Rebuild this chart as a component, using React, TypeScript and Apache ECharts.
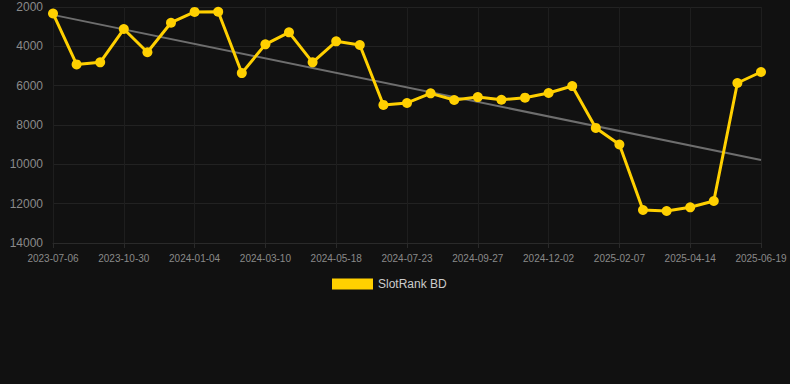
import React, { useEffect, useRef } from "react";
import * as echarts from "echarts";

const dates = [
  "2023-07-06", "2023-08-14", "2023-09-22", "2023-10-30", "2023-11-21", "2023-12-13",
  "2024-01-04", "2024-01-26", "2024-02-17", "2024-03-10", "2024-04-02", "2024-04-25",
  "2024-05-18", "2024-06-09", "2024-07-01", "2024-07-23", "2024-08-14", "2024-09-05",
  "2024-09-27", "2024-10-19", "2024-11-10", "2024-12-02", "2024-12-24", "2025-01-15",
  "2025-02-07", "2025-03-01", "2025-03-23", "2025-04-14", "2025-05-06", "2025-05-28",
  "2025-06-19",
];

const rankValues = [
  2330, 4920, 4815, 3120, 4300, 2800, 2250, 2240, 5360, 3900, 3290, 4815,
  3745, 3930, 6980, 6880, 6390, 6730, 6580, 6715, 6610, 6375, 6020, 8150,
  8990, 12320, 12375, 12185, 11865, 5865, 5305,
];

// trend line end values (first and last category)
const trendValues = [2400, 9780];

const seriesName = "SlotRank BD";

export default function App() {
  const ref = useRef<HTMLDivElement>(null);
  useEffect(() => {
    document.body.style.margin = "0";
    const chart = echarts.init(ref.current!, null, { renderer: "svg" });
    chart.setOption({
      animation: false,
      backgroundColor: "#111111",
      grid: { left: 53, right: 29, top: 7, bottom: 141, containLabel: false },
      legend: {
        data: [seriesName],
        top: 278,
        left: 332,
        padding: 0,
        icon: "rect",
        itemWidth: 41,
        itemHeight: 11,
        itemGap: 10,
        textStyle: { color: "#cccccc", fontSize: 12, fontFamily: "Liberation Sans, Arial, sans-serif" },
      },
      xAxis: {
        type: "category",
        data: dates,
        boundaryGap: false,
        axisLine: { show: true, lineStyle: { color: "#2a2a2a" } },
        axisTick: { show: true, interval: 2, lineStyle: { color: "#2a2a2a" } },
        axisLabel: {
          interval: 2,
          color: "#8a8a8a",
          fontSize: 10,
          margin: 10,
          fontFamily: "Liberation Sans, Arial, sans-serif",
        },
        splitLine: { show: true, interval: 2, lineStyle: { color: "#1e1e1e", width: 1 } },
      },
      yAxis: {
        type: "value",
        inverse: true,
        min: 2000,
        max: 14000,
        interval: 2000,
        axisLine: { show: false },
        axisTick: { show: false },
        axisLabel: {
          color: "#8a8a8a",
          fontSize: 12,
          margin: 10,
          formatter: (v: number) => String(v),
          fontFamily: "Liberation Sans, Arial, sans-serif",
        },
        splitLine: { show: true, lineStyle: { color: "#222222", width: 1 } },
      },
      series: [
        {
          name: seriesName,
          type: "line",
          data: rankValues,
          symbol: "circle",
          symbolSize: 10,
          lineStyle: { color: "#ffd000", width: 3 },
          itemStyle: { color: "#ffd000" },
          z: 3,
        },
        {
          name: "Trend",
          type: "line",
          data: [
            [0, trendValues[0]],
            [dates.length - 1, trendValues[1]],
          ],
          symbol: "none",
          lineStyle: { color: "#6e6e6e", width: 2 },
          itemStyle: { color: "#6e6e6e" },
          z: 2,
          silent: true,
        },
      ],
    });
    return () => chart.dispose();
  }, []);
  return <div ref={ref} style={{ width: 790, height: 384 }} />;
}
